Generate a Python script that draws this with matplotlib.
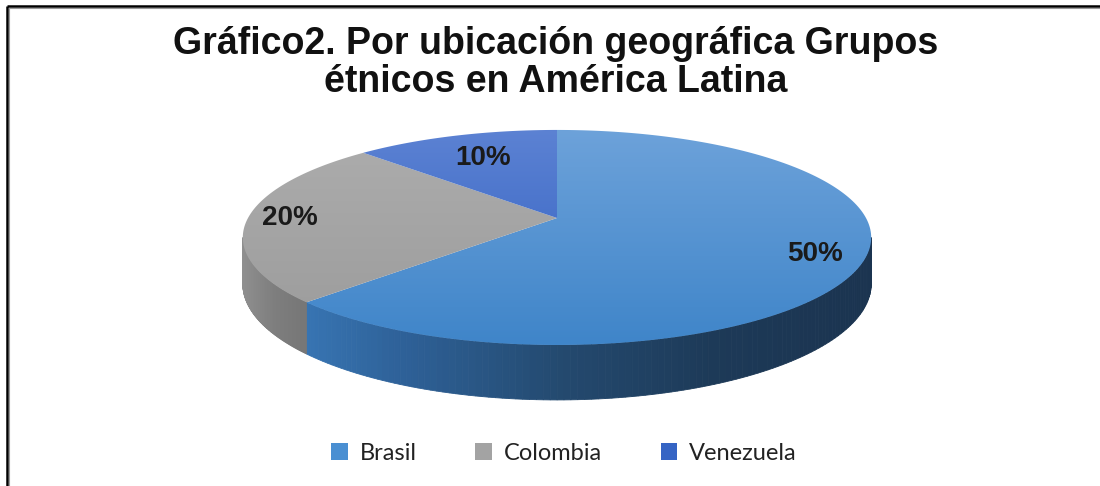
import numpy as np
import matplotlib.pyplot as plt
from matplotlib.patches import Polygon, Patch
from matplotlib.colors import LinearSegmentedColormap

# datos del grafico
paises = ['Brasil', 'Colombia', 'Venezuela']
valores = [50, 20, 10]
titulo = 'Gráfico2. Por ubicación geográfica Grupos\nétnicos en América Latina'

# colores (superficie superior: arriba -> abajo)
col_top = [('#6DA2DA', '#3F85C9'), ('#ADADAD', '#9B9B9B'), ('#5C82D3', '#2E5EC0')]
col_lado = [['#3D80C2', '#2E6198', '#244A70', '#1D3A58', '#1B3450'],
            ['#8F8F8F', '#7E7E7E', '#767676'],
            ['#2E5EC0', '#23479A']]
col_leyenda = ['#4A8FD2', '#A3A3A3', '#3564C4']
dist_etiqueta = [0.85, 0.865, 0.70]

# geometria en pixeles (pastel con perspectiva)
CX, CY = 557, 218
A, B, K = 309, 104, 0.181
D = 45


def proj(theta, r=1.0, drop=0.0):
    t = np.radians(theta)
    w = 1 + K * r * np.sin(t)
    x = CX + A * r * np.cos(t) / w
    y = CY - B * r * np.sin(t) / w + drop / w
    return x, y


fig = plt.figure(figsize=(11, 4.86), dpi=100)
ax = fig.add_axes([0, 0, 1, 1])
ax.set_xlim(0, 1100)
ax.set_ylim(486, 0)
ax.axis('off')

total = sum(valores)
fracs = [v / total for v in valores]
inicio = [90 - 360 * sum(fracs[:i]) for i in range(len(fracs))]
fin = [a - 360 * f for a, f in zip(inicio, fracs)]

vis_lo = 180 + np.degrees(np.arcsin(K))
vis_hi = 360 - np.degrees(np.arcsin(K))

# lado (cilindro)
for i in range(len(valores)):
    cmap = LinearSegmentedColormap.from_list('l%d' % i, col_lado[i])
    for shift in (-360, 0, 360):
        lo = max(fin[i] + shift, vis_lo)
        hi = min(inicio[i] + shift, vis_hi)
        if lo >= hi:
            continue
        th = np.linspace(lo, hi, 120)
        xt, yt = proj(th)
        xb, yb = proj(th, drop=D)
        xs = (xt - (CX - A)) / (2 * A)
        for j in range(len(th) - 1):
            c = cmap(np.clip((xs[j] + xs[j + 1]) / 2, 0, 1)) if i == 0 else \
                cmap(np.clip((xt[j] - xt[0]) / max(xt[-1] - xt[0], 1), 0, 1))
            pts = [(xt[j], yt[j]), (xt[j + 1], yt[j + 1]),
                   (xb[j + 1], yb[j + 1]), (xb[j], yb[j])]
            ax.add_patch(Polygon(pts, closed=True, facecolor=c,
                                 edgecolor=c, lw=0.6))

# superficie superior con degradado
grad = np.linspace(0, 1, 256)[:, None]
for i in range(len(valores)):
    th = np.linspace(inicio[i], fin[i], 200)
    xa, ya = proj(th)
    pts = np.vstack([[CX, CY], np.column_stack([xa, ya])])
    poly = Polygon(pts, closed=True, facecolor='none', edgecolor='none')
    ax.add_patch(poly)
    cmap = LinearSegmentedColormap.from_list('t%d' % i, col_top[i])
    y0, y1 = proj(90)[1], proj(270)[1]
    im = ax.imshow(grad, cmap=cmap, aspect='auto', origin='upper',
                   extent=(CX - A - 10, CX + A + 10, y1, y0), zorder=2)
    im.set_clip_path(poly)

# etiquetas de porcentaje
for i, v in enumerate(valores):
    mid = (inicio[i] + fin[i]) / 2
    x, y = proj(mid, r=dist_etiqueta[i])
    ax.text(x, y, '%d%%' % v, ha='center', va='center', fontsize=20,
            fontweight='bold', family='Liberation Sans', color='#1a1a1a',
            zorder=5)

ax.set_xlim(0, 1100)
ax.set_ylim(486, 0)

# titulo
ax.text(556, 63, titulo, ha='center', va='center', fontsize=27,
        fontweight='bold', family='Liberation Sans', color='#111111',
        linespacing=1.05)

# leyenda
handles = [Patch(facecolor=c, edgecolor='none', label=p)
           for c, p in zip(col_leyenda, paises)]
fig.legend(handles=handles, loc='center', ncol=3, frameon=False,
           bbox_to_anchor=(564 / 1100, 1 - 453 / 486),
           prop={'family': 'Lato', 'size': 17}, handlelength=0.7,
           handleheight=0.7, handletextpad=0.5, columnspacing=2.5,
           labelcolor='#222222')

# borde (arriba e izquierda)
ax.plot([7, 1100], [6, 6], color='black', lw=1.8, clip_on=False,
        solid_capstyle='butt')
ax.plot([7, 7], [6, 486], color='black', lw=1.8, clip_on=False,
        solid_capstyle='butt')
ax.plot([9, 1100], [8, 8], color='#999999', lw=0.8, clip_on=False)
ax.plot([9, 9], [8, 486], color='#999999', lw=0.8, clip_on=False)

fig.savefig('out.png', dpi=100)
